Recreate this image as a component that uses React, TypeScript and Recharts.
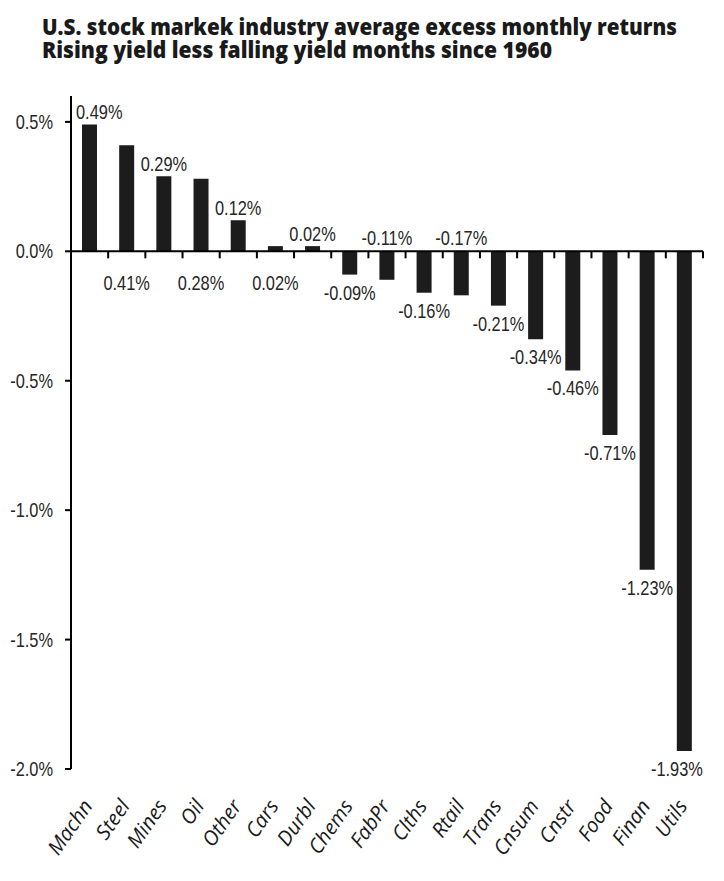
import React from 'react';
import { BarChart, Bar, XAxis, YAxis, ReferenceLine, LabelList } from 'recharts';

const categories = ['Machn', 'Steel', 'Mines', 'Oil', 'Other', 'Cars', 'Durbl', 'Chems', 'FabPr', 'Clths', 'Rtail', 'Trans', 'Cnsum', 'Cnstr', 'Food', 'Finan', 'Utils'];
const excessReturns = [0.49, 0.41, 0.29, 0.28, 0.12, 0.02, 0.02, -0.09, -0.11, -0.16, -0.17, -0.21, -0.34, -0.46, -0.71, -1.23, -1.93];
const yTicks = [-2, -1.5, -1, -0.5, 0, 0.5];
const titleLines = ['U.S. stock markek industry average excess monthly returns', 'Rising yield less falling yield months since 1960'];
// categories whose negative labels sit just above the zero line
const labelsAboveAxis = ['FabPr', 'Rtail'];

const data = categories.map((name, i) => ({ name, value: excessReturns[i] }));

const NARROW = "'Liberation Sans', Arial, sans-serif";
const SQUEEZE = 0.82;
const TEXT = '#262626';
const LABEL_SIZE = 20;

const NarrowText = ({ x, y, anchor, children, dy }: any) => (
  <g transform={`translate(${x},${y})`}>
    <text transform={`scale(${SQUEEZE},1)`} textAnchor={anchor} dy={dy} fontFamily={NARROW} fontSize={LABEL_SIZE} fill={TEXT}>
      {children}
    </text>
  </g>
);

const XTick = (props: any) => {
  const { x, y, payload } = props;
  return (
    <g transform={`translate(${x + 4},${y + 37})`}>
      <text textAnchor="end" transform="rotate(-55)" fontStyle="italic" fontFamily="'Open Sans', sans-serif" fontSize={20.5} fill="#1a1a1a">
        {payload.value}
      </text>
    </g>
  );
};

const YTick = (props: any) => {
  const { x, y, payload } = props;
  return (
    <NarrowText x={x} y={y} anchor="end" dy="0.355em">
      {`${Number(payload.value).toFixed(1)}%`}
    </NarrowText>
  );
};

const renderBarLabel = (props: any) => {
  const { x, y, width, height, value, index } = props;
  const top = Math.min(y, y + height);
  const bottom = Math.max(y, y + height);
  const cx = x + width / 2;
  const text = `${Number(value).toFixed(2)}%`;
  const name = categories[index];
  let tx = cx;
  let ty: number;
  let anchor: 'start' | 'middle' | 'end' = 'middle';
  if (value >= 0) {
    if (index % 2 === 0) {
      ty = top - 5;
    } else {
      ty = bottom + 39;
    }
  } else if (labelsAboveAxis.includes(name)) {
    ty = top - 6;
  } else {
    ty = bottom + 25;
  }
  if (index === 0) {
    anchor = 'start';
    tx = x - 6;
  }
  if (index === categories.length - 1) {
    anchor = 'end';
    tx = x + width + 11;
  }
  return (
    <NarrowText x={tx} y={ty} anchor={anchor}>
      {text}
    </NarrowText>
  );
};

const ZeroLine = (props: any) => {
  const { x1, y1, x2, y2 } = props;
  const n = categories.length;
  const step = (x2 - x1) / n;
  const ticks = [];
  for (let k = 1; k <= n; k++) {
    const tx = x1 + step * k;
    ticks.push(<line key={k} x1={tx} y1={y1} x2={tx} y2={y1 + 7} stroke="#000" strokeWidth={2} />);
  }
  return (
    <g>
      <line x1={x1} y1={y1} x2={x2} y2={y2} stroke="#000" strokeWidth={2} />
      {ticks}
    </g>
  );
};

export default function App() {
  return (
    <div style={{ position: 'absolute', left: 0, top: 0, width: 724, height: 881, background: '#fff', overflow: 'hidden' }}>
      <div style={{ position: 'absolute', left: 0, top: 0 }}>
        <BarChart width={724} height={881} data={data} margin={{ top: 96, right: 21, bottom: 32, left: 8 }} barSize={15}>
          <XAxis
            dataKey="name"
            type="category"
            axisLine={false}
            tickLine={false}
            tickSize={0}
            tickMargin={0}
            interval={0}
            height={80}
            tick={<XTick />}
          />
          <YAxis
            type="number"
            domain={[-2, 0.6]}
            ticks={yTicks}
            width={63}
            axisLine={{ stroke: '#000', strokeWidth: 2 }}
            tickLine={{ stroke: '#000', strokeWidth: 2 }}
            tickSize={6}
            tickMargin={12}
            tick={<YTick />}
            allowDataOverflow
          />
          <ReferenceLine y={0} shape={<ZeroLine />} />
          <Bar dataKey="value" fill="#1c1c1c" isAnimationActive={false}>
            <LabelList dataKey="value" content={renderBarLabel} />
          </Bar>
        </BarChart>
      </div>
      <svg width={724} height={881} style={{ position: 'absolute', left: 0, top: 0, pointerEvents: 'none', overflow: 'visible' }}>
        <text x={42} y={35} fontFamily="'Open Sans', sans-serif" fontWeight={800} fontSize={22.5} fill="#1a1a1a" textLength={635} lengthAdjust="spacingAndGlyphs">
          {titleLines[0]}
        </text>
        <text x={42} y={58} fontFamily="'Open Sans', sans-serif" fontWeight={800} fontSize={22.5} fill="#1a1a1a" textLength={510} lengthAdjust="spacingAndGlyphs">
          {titleLines[1]}
        </text>
      </svg>
    </div>
  );
}
